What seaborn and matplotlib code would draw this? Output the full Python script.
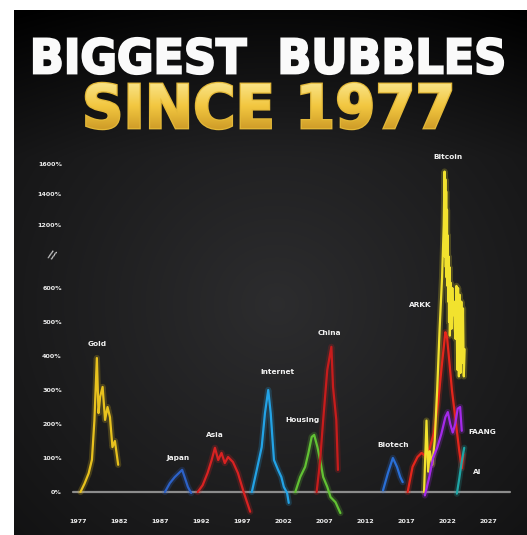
import numpy as np
import pandas as pd
import matplotlib
matplotlib.use("Agg")
import matplotlib.pyplot as plt
import seaborn as sns
from matplotlib.textpath import TextPath
from matplotlib.font_manager import FontProperties
from matplotlib.patches import PathPatch
from matplotlib.transforms import Affine2D

# ---------------- data ----------------
gold_years = [1977.3, 1977.8, 1978.3, 1978.7, 1979.0, 1979.3, 1979.5, 1979.7, 1980.0, 1980.3, 1980.6, 1980.9, 1981.2, 1981.5, 1981.9]
gold_vals = [0, 25, 55, 95, 210, 394, 232, 280, 309, 212, 250, 220, 132, 150, 80]

japan_years = [1987.6, 1988.2, 1988.8, 1989.7, 1990.0, 1990.4, 1990.8]
japan_vals = [0, 26, 44, 65, 44, 15, -3]

asia_years = [1991.6, 1992.2, 1992.8, 1993.3, 1993.7, 1994.1, 1994.5, 1994.9, 1995.3, 1995.9, 1996.5, 1997.2, 1998.0]
asia_vals = [0, 20, 56, 94, 130, 94, 115, 85, 103, 88, 56, 0, -58]

internet_years = [1998.2, 1998.8, 1999.4, 1999.8, 2000.2, 2000.5, 2000.7, 2000.9, 2001.4, 2001.8, 2002.1, 2002.5, 2002.7]
internet_vals = [0, 65, 132, 232, 300, 232, 162, 94, 65, 44, 15, -3, -32]

housing_years = [2003.5, 2004.1, 2004.7, 2005.1, 2005.5, 2005.8, 2006.2, 2006.6, 2006.9, 2007.4, 2007.8, 2008.4, 2009.0]
housing_vals = [0, 44, 74, 115, 162, 168, 132, 85, 44, 15, -15, -30, -62]

china_years = [2006.1, 2006.5, 2006.9, 2007.4, 2007.9, 2008.1, 2008.5, 2008.7]
china_vals = [0, 85, 212, 359, 427, 309, 212, 65]

biotech_years = [2014.2, 2014.8, 2015.4, 2015.9, 2016.3, 2016.6]
biotech_vals = [5, 56, 100, 74, 44, 29]

arkk_years = [2017.2, 2017.8, 2018.4, 2018.9, 2019.5, 2019.9, 2020.4, 2020.9, 2021.4, 2021.8, 2022.0, 2022.3, 2022.6, 2022.9, 2023.2, 2023.5, 2023.8, 2024.0]
arkk_vals = [0, 74, 103, 115, 103, 130, 174, 260, 380, 470, 456, 380, 300, 240, 180, 120, 70, 110]

bitcoin_years = [2019.2, 2019.5, 2019.7, 2019.9, 2020.2, 2020.5, 2020.8, 2021.1, 2021.4, 2021.6, 2021.7, 2021.75, 2021.8, 2021.85,
                 2021.9, 2021.95, 2022.0, 2022.05, 2022.1, 2022.15, 2022.2, 2022.25, 2022.3, 2022.35, 2022.45, 2022.55,
                 2022.65, 2022.75, 2022.85, 2022.95, 2023.05, 2023.15, 2023.25, 2023.35, 2023.45, 2023.55, 2023.65, 2023.75,
                 2023.85, 2023.95, 2024.05, 2024.15]
bitcoin_vals = [0, 210, 60, 120, 80, 150, 300, 480, 700, 1200, 1550, 900, 1500, 800,
                1420, 700, 1300, 620, 1100, 560, 900, 500, 800, 460, 650, 480,
                600, 520, 560, 480, 450, 620, 360, 600, 340, 580, 350, 560,
                380, 540, 340, 420]

faang_years = [2019.3, 2019.8, 2020.3, 2020.8, 2021.3, 2021.8, 2022.1, 2022.4, 2022.7, 2023.0, 2023.3, 2023.6, 2023.8]
faang_vals = [-10, 40, 100, 130, 170, 220, 235, 200, 175, 200, 245, 250, 180]

ai_years = [2023.2, 2023.5, 2023.8, 2024.1]
ai_vals = [-5, 40, 90, 130]

bubble_names = ["Gold", "Japan", "Asia", "Internet", "Housing", "China", "Biotech", "ARKK", "Bitcoin", "FAANG", "AI"]
bubble_colors = ["#E8C21E", "#2D62C8", "#D92222", "#23A3E6", "#62C234", "#C81C1C", "#2A6FD6", "#E4261C", "#F2E22E", "#A42AEB", "#1FA6A6"]
series = [(gold_years, gold_vals), (japan_years, japan_vals), (asia_years, asia_vals), (internet_years, internet_vals),
          (housing_years, housing_vals), (china_years, china_vals), (biotech_years, biotech_vals), (arkk_years, arkk_vals),
          (bitcoin_years, bitcoin_vals), (faang_years, faang_vals), (ai_years, ai_vals)]

# label anchor (year, value)
label_years = [1979.3, 1989.2, 1993.7, 2001.3, 2004.4, 2007.7, 2015.4, 2018.7, 2022.1, 2026.3, 2025.7]
label_vals = [435, 100, 168, 353, 212, 468, 138, 550, 1644, 176, 59]

ytick_vals = [0, 100, 200, 300, 400, 500, 600, 1200, 1400, 1600]
ytick_labels = ["0%", "100%", "200%", "300%", "400%", "500%", "600%", "1200%", "1400%", "1600%"]
xtick_vals = [1977, 1982, 1987, 1992, 1997, 2002, 2007, 2012, 2017, 2022, 2027]
xtick_labels = [str(v) for v in xtick_vals]

title1 = "BIGGEST  BUBBLES"
title2 = "SINCE 1977"

rows = []
for name, (ys, vs) in zip(bubble_names, series):
    for yr, v in zip(ys, vs):
        rows.append({"bubble": name, "year": yr, "value": v})
df = pd.DataFrame(rows)
palette = dict(zip(bubble_names, bubble_colors))

# ---------------- figure ----------------
W, H = 527, 535
sns.set_theme(style="white")
plt.rcParams['font.family'] = ['DejaVu Sans']
fig = plt.figure(figsize=(W / 100, H / 100), dpi=100)
fig.patch.set_facecolor("white")

# background panel in pixel coordinates
bg = fig.add_axes([0, 0, 1, 1])
bg.set_xlim(0, W)
bg.set_ylim(H, 0)
bg.axis("off")
gx, gy = np.meshgrid(np.linspace(0, W, 264), np.linspace(0, H, 268))
r = np.sqrt(((gx - 270) / 340) ** 2 + ((gy - 300) / 320) ** 2)
lum = np.clip(0.175 - 0.095 * r, 0.05, 0.2)
lum = lum - 0.06 * np.clip((150 - gy) / 150, 0, 1)
img = np.dstack([lum, lum, lum * 1.04])
bg.imshow(np.clip(img, 0, 1), extent=[14, W, H, 10], aspect="auto", zorder=0, interpolation="bilinear")


def fit_text(text, x0, x1, ytop, ybot, weight="bold"):
    tp = TextPath((0, 0), text, size=100, prop=FontProperties(family="DejaVu Sans", weight=weight))
    ext = tp.get_extents()
    sx = (x1 - x0) / ext.width
    sy = (ybot - ytop) / ext.height
    tr = Affine2D().translate(-ext.x0, -ext.y0).scale(sx, -sy).translate(x0, ybot)
    return tr.transform_path(tp)


p1 = fit_text(title1, 34, 503, 38, 74)
bg.add_patch(PathPatch(p1, facecolor="#FAFAFA", edgecolor="#FAFAFA", lw=1.6, zorder=3))

p2 = fit_text(title2, 86, 451, 83, 129)
bg.add_patch(PathPatch(p2, facecolor="#E3B838", edgecolor="#E3B838", lw=1.8, zorder=3))
gold_patch = PathPatch(p2, facecolor="none", edgecolor="none", zorder=3)
bg.add_patch(gold_patch)
c_top = np.array([0.98, 0.90, 0.55])
c_mid = np.array([0.95, 0.78, 0.25])
c_bot = np.array([0.80, 0.60, 0.15])
gcol = np.zeros((100, 1, 3))
for i, g in enumerate(np.linspace(0, 1, 100)):
    if g < 0.5:
        gcol[i, 0] = c_top + (c_mid - c_top) * (g / 0.5)
    else:
        gcol[i, 0] = c_mid + (c_bot - c_mid) * ((g - 0.5) / 0.5)
gim = bg.imshow(gcol, extent=[84, 453, 131, 81], aspect="auto", zorder=4, interpolation="bilinear")
gim.set_clip_path(gold_patch)

# ---------------- chart axes ----------------
left_px, right_px, top_px, bot_px = 73, 510, 150, 517
ax = fig.add_axes([left_px / W, 1 - bot_px / H, (right_px - left_px) / W, (bot_px - top_px) / H])
ax.patch.set_alpha(0)


def fwd(v):
    v = np.asarray(v, dtype=float)
    return np.where(v <= 600, v, np.where(v <= 1200, 600 + (v - 600) * 185 / 600, 785 + (v - 1200) * 0.45))


def inv(t):
    t = np.asarray(t, dtype=float)
    return np.where(t <= 600, t, np.where(t <= 785, 600 + (t - 600) * 600 / 185, 1200 + (t - 785) / 0.45))


ax.set_yscale("function", functions=(fwd, inv))

x_left = 1977 + (left_px - 78) / 8.2
x_right = 1977 + (right_px - 78) / 8.2
t_top = (492 - top_px) / 0.34
t_bot = -(bot_px - 492) / 0.34
ax.set_xlim(x_left, x_right)
ax.set_ylim(float(inv(t_bot)), float(inv(t_top)))

ax.axhline(0, color="#8C8C8C", lw=1.6, zorder=1)

sns.lineplot(data=df, x="year", y="value", hue="bubble", palette=palette, units="bubble", estimator=None,
             sort=False, lw=4.5, alpha=0.22, legend=False, ax=ax, zorder=2)
sns.lineplot(data=df, x="year", y="value", hue="bubble", palette=palette, units="bubble", estimator=None,
             sort=False, lw=1.6, legend=False, ax=ax, zorder=3)
for line in ax.get_lines():
    line.set_clip_on(False)

for name, lx, lv in zip(bubble_names, label_years, label_vals):
    ax.text(lx, lv, name, color="#F2F2F2", fontsize=5.3, fontweight="bold", ha="center", va="center", zorder=5)

ax.text(1973.8, 915, "//", color="#E0E0E0", fontsize=7, fontweight="bold", ha="center", va="center",
        rotation=-20, clip_on=False)

ax.set_yticks(ytick_vals)
ax.set_yticklabels(ytick_labels)
ax.set_xticks(xtick_vals)
ax.set_xticklabels(xtick_labels)
ax.tick_params(axis="both", length=0, labelcolor="#EDEDED", labelsize=4.6)
ax.tick_params(axis="y", pad=8)
ax.tick_params(axis="x", pad=1.5)
for lab in ax.get_xticklabels() + ax.get_yticklabels():
    lab.set_fontweight("bold")
for s in ax.spines.values():
    s.set_visible(False)
ax.set_xlabel("")
ax.set_ylabel("")
ax.grid(False)

fig.savefig("out.png", dpi=100, facecolor=fig.get_facecolor())
